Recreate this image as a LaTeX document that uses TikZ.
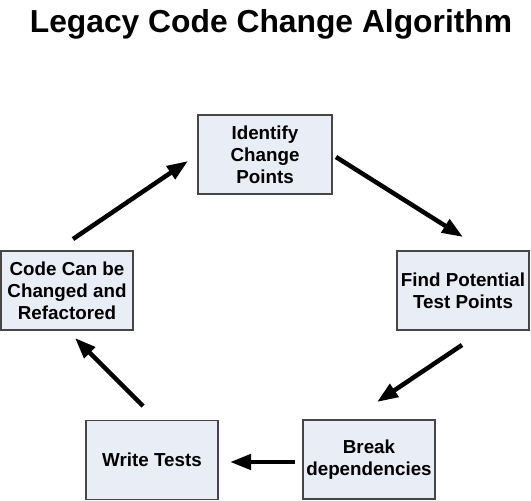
\documentclass[tikz,border=0pt]{standalone}
\usepackage{fontspec}
\setmainfont{Liberation Sans}
\usetikzlibrary{arrows.meta}
\definecolor{boxfill}{RGB}{233,237,246}
\definecolor{boxline}{RGB}{70,70,70}
\begin{document}
\begin{tikzpicture}[x=1pt,y=-1pt,
  stepbox/.style={draw=boxline, fill=boxfill, line width=1.2pt, inner sep=0pt,
    align=center, minimum width=132pt, minimum height=79pt,
    font=\fontsize{18.8}{22}\selectfont\bfseries},
  flow/.style={line width=4.5pt, -{Triangle[length=21pt,width=15pt]}}]
\useasboundingbox (0,0) rectangle (531,501);
\node[font=\fontsize{31.8}{38}\selectfont\bfseries, anchor=base, inner sep=0pt] (title) at (271,32) {Legacy Code Change Algorithm};
\node[stepbox, minimum width=134pt] (id) at (265,154.5) {Identify\\Change\\Points};
\node[stepbox] (find) at (463,290.5) {Find Potential\\Test Points};
\node[stepbox] (brk) at (369,459.5) {Break\\dependencies};
\node[stepbox] (wrt) at (152,460) {Write Tests};
\node[stepbox] (code) at (67,290.5) {Code Can be\\Changed and\\Refactored};
\coordinate (a1s) at (336,157); \coordinate (a1e) at (463,237);
\coordinate (a2s) at (462,345); \coordinate (a2e) at (377,402);
\coordinate (a3s) at (295,462); \coordinate (a3e) at (230,462);
\coordinate (a4s) at (143,406); \coordinate (a4e) at (75,338);
\coordinate (a5s) at (73,239);  \coordinate (a5e) at (188,161);
\draw[flow] (a1s) -- (a1e);
\draw[flow] (a2s) -- (a2e);
\draw[flow] (a3s) -- (a3e);
\draw[flow] (a4s) -- (a4e);
\draw[flow] (a5s) -- (a5e);
\end{tikzpicture}
\end{document}
